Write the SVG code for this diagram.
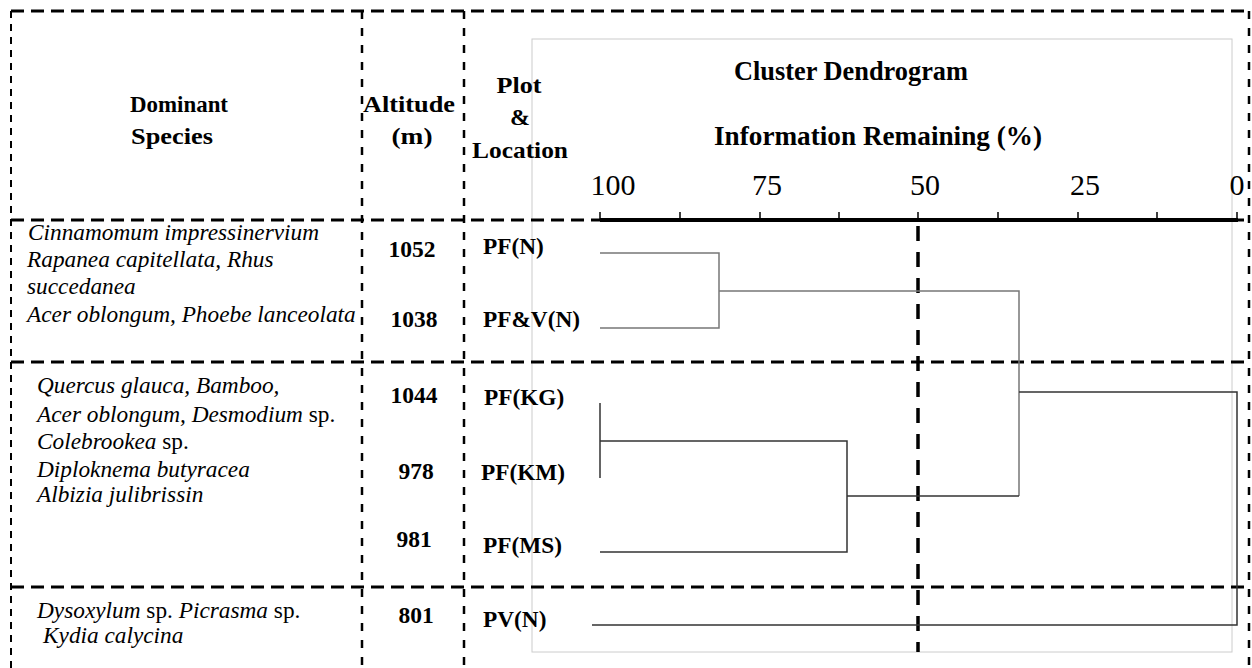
<svg xmlns="http://www.w3.org/2000/svg" width="1252" height="668" viewBox="0 0 1252 668" font-family="'Liberation Serif', 'Times New Roman', serif">
<style>
text{font-family:'Liberation Serif','Times New Roman',serif;fill:#000}
.hd{font-weight:bold;font-size:24px;text-anchor:middle}
.tt{font-weight:bold;font-size:26.5px;text-anchor:middle}
.tk{font-size:30px;text-anchor:middle}
.sp{font-style:italic;font-size:23.3px}
.n{font-style:normal}
.num{font-weight:bold;font-size:23.5px;text-anchor:middle}
.pl{font-weight:bold;font-size:23.3px}
.gh{stroke:#000;stroke-width:3;stroke-dasharray:13 7;fill:none}
.gv{stroke:#000;stroke-width:2.5;stroke-dasharray:8 9;fill:none}
.gb{stroke:#000;stroke-width:2;stroke-dasharray:7 6;fill:none}
.d{stroke:#333;stroke-width:1.5;fill:none}
.dg{stroke:#777;stroke-width:1.5;fill:none}
</style>
<rect width="1252" height="668" fill="#fff"/>
<g id="plot-frame">
<rect x="532" y="39" width="700" height="613" fill="none" stroke="#ccc" stroke-width="1"/>
</g>
<g id="grid">
<line class="gh" x1="11" y1="11" x2="1249" y2="11"/>
<line class="gh" x1="11" y1="220" x2="1249" y2="220"/>
<line class="gh" x1="11" y1="362" x2="1249" y2="362"/>
<line class="gh" x1="11" y1="587" x2="1249" y2="587"/>
<line class="gb" x1="11" y1="11" x2="11" y2="668"/>
<line class="gv" x1="362" y1="11" x2="362" y2="668"/>
<line class="gv" x1="464" y1="11" x2="464" y2="668"/>
<line class="gv" x1="1249" y1="11" x2="1249" y2="668"/>
<line x1="918" y1="226" x2="918" y2="652" stroke="#000" stroke-width="3.5" stroke-dasharray="15 11"/>
</g>
<g id="header">
<text class="hd" x="179" y="112" textLength="98" lengthAdjust="spacingAndGlyphs">Dominant</text>
<text class="hd" x="172" y="144" textLength="82" lengthAdjust="spacingAndGlyphs">Species</text>
<text class="hd" x="409" y="112" textLength="92" lengthAdjust="spacingAndGlyphs">Altitude</text>
<text class="hd" x="412" y="144" textLength="41" lengthAdjust="spacingAndGlyphs">(m)</text>
<text class="hd" x="519" y="93" textLength="45" lengthAdjust="spacingAndGlyphs">Plot</text>
<text class="hd" x="520" y="125">&amp;</text>
<text class="hd" x="520" y="158" textLength="96" lengthAdjust="spacingAndGlyphs">Location</text>
</g>
<g id="axis">
<text class="tt" x="851" y="80" textLength="234" lengthAdjust="spacingAndGlyphs">Cluster Dendrogram</text>
<text class="tt" x="878" y="145" textLength="328" lengthAdjust="spacingAndGlyphs">Information Remaining (%)</text>
<line x1="600" y1="220" x2="1238" y2="220" stroke="#000" stroke-width="4"/>
<path d="M600 212V220M680 212V220M760 212V220M839 212V220M918 212V220M998 212V220M1078 212V220M1157 212V220M1237 212V220" stroke="#000" stroke-width="1.5"/>
<text class="tk" x="613" y="195">100</text>
<text class="tk" x="767" y="195">75</text>
<text class="tk" x="925" y="195">50</text>
<text class="tk" x="1085" y="195">25</text>
<text class="tk" x="1237" y="195">0</text>
</g>
<g id="row1">
<text class="sp" x="28" y="240">Cinnamomum impressinervium</text>
<text class="sp" x="27" y="267">Rapanea capitellata, Rhus</text>
<text class="sp" x="27" y="294">succedanea</text>
<text class="sp" x="27" y="322">Acer oblongum, Phoebe lanceolata</text>
<text class="num" x="412" y="257">1052</text>
<text class="num" x="414" y="327">1038</text>
<text class="pl" x="483" y="254">PF(N)</text>
<text class="pl" x="483" y="327">PF&amp;V(N)</text>
</g>
<g id="row2">
<text class="sp" x="37" y="393">Quercus glauca, Bamboo,</text>
<text class="sp" x="37" y="422">Acer oblongum, Desmodium<tspan class="n"> sp.</tspan></text>
<text class="sp" x="37" y="449">Colebrookea<tspan class="n"> sp.</tspan></text>
<text class="sp" x="37" y="477">Diploknema butyracea</text>
<text class="sp" x="37" y="502">Albizia julibrissin</text>
<text class="num" x="414" y="403">1044</text>
<text class="num" x="416" y="479">978</text>
<text class="num" x="414" y="547">981</text>
<text class="pl" x="484" y="405">PF(KG)</text>
<text class="pl" x="481" y="480">PF(KM)</text>
<text class="pl" x="483" y="553">PF(MS)</text>
</g>
<g id="row3">
<text class="sp" x="37" y="618">Dysoxylum<tspan class="n"> sp. </tspan>Picrasma<tspan class="n"> sp.</tspan></text>
<text class="sp" x="43" y="643">Kydia calycina</text>
<text class="num" x="416" y="623">801</text>
<text class="pl" x="483" y="627">PV(N)</text>
</g>
<g id="connectors">
<path class="dg" d="M600 253H719V328H600M719 291H1019V496"/>
<path class="d" d="M600 403V478M600 441H847V552H600M847 496H1019M1019 392H1237V625H592"/>
</g>
</svg>
